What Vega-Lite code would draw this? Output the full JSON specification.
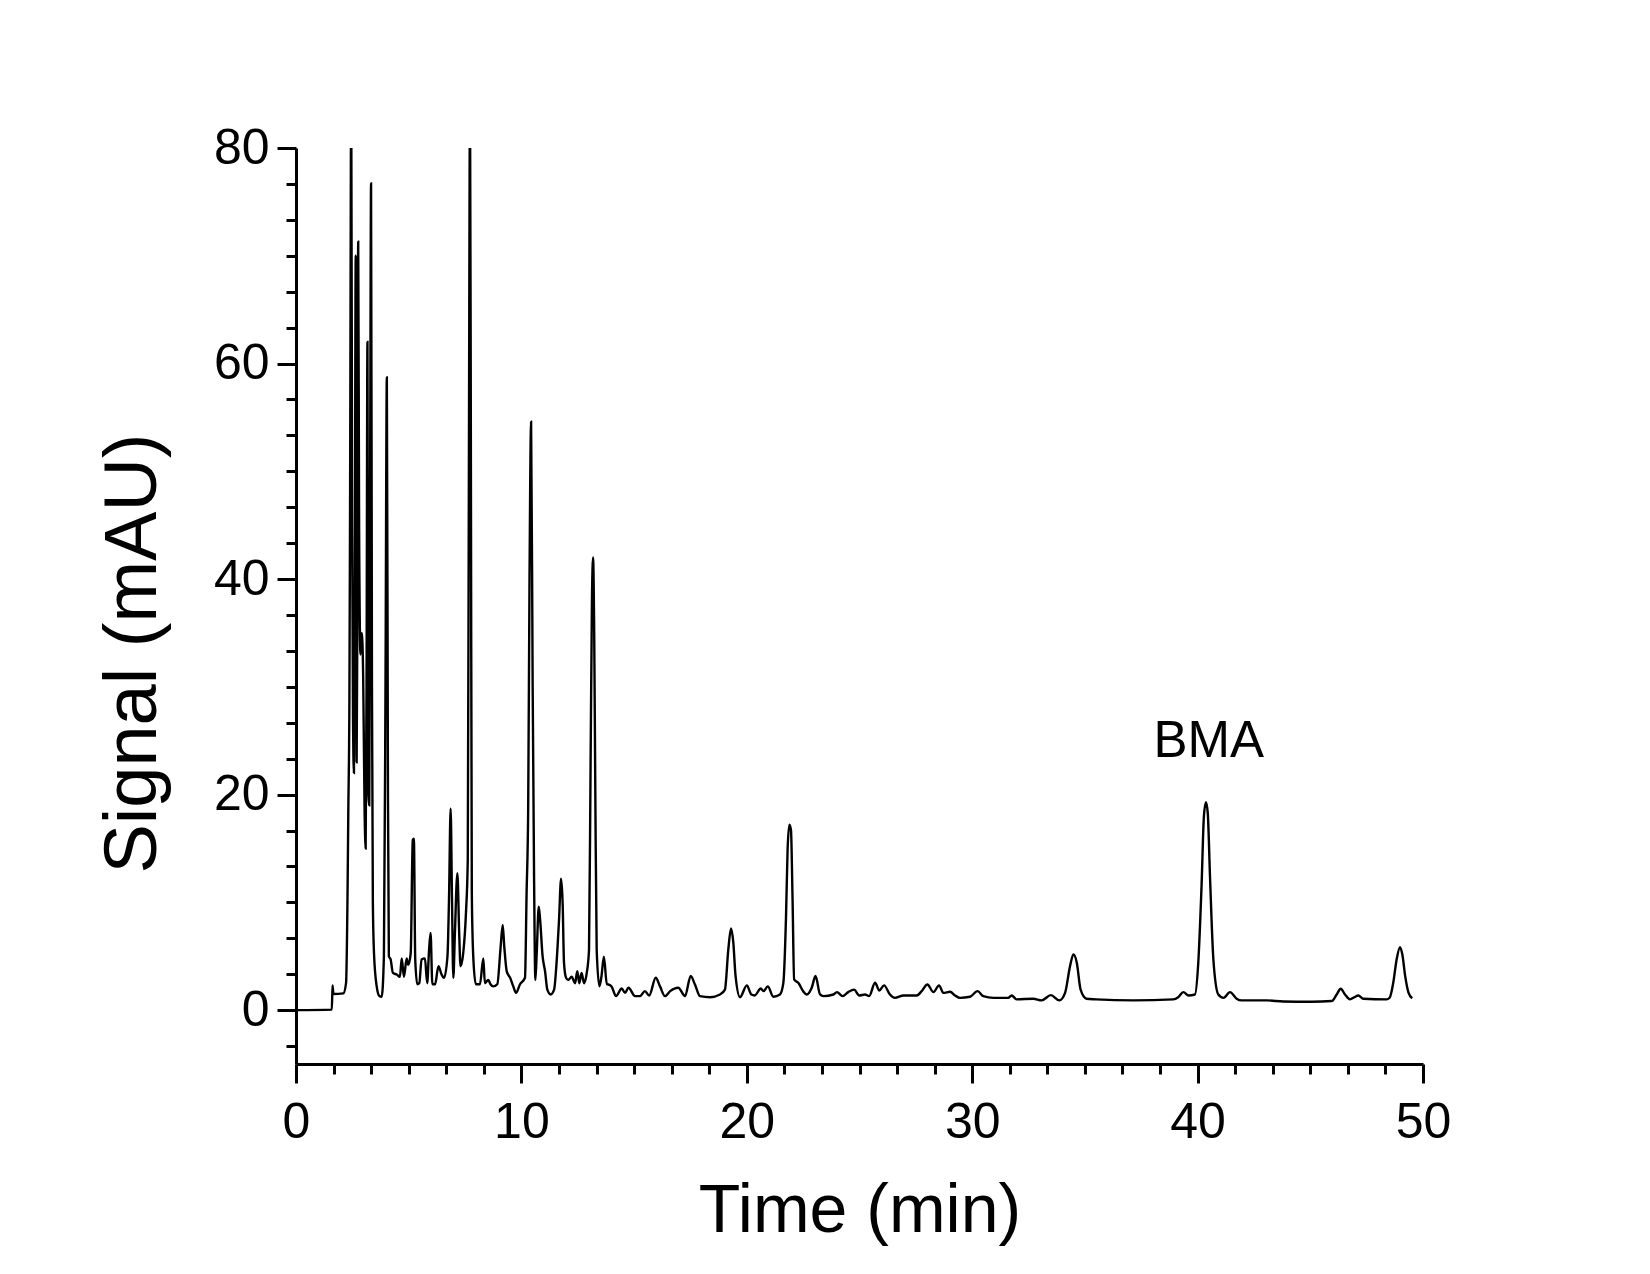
{
  "$schema": "https://vega.github.io/schema/vega-lite/v6.json",
  "width": 1127,
  "height": 916,
  "autosize": {"type": "none"},
  "padding": {"left": 296, "top": 148, "right": 227, "bottom": 210},
  "background": "white",
  "config": {
    "view": {"stroke": null},
    "axis": {
      "grid": false,
      "domainColor": "black",
      "tickColor": "black",
      "labelColor": "black",
      "titleColor": "black",
      "labelFont": "Liberation Sans",
      "titleFont": "Liberation Sans",
      "titleFontWeight": "normal"
    }
  },
  "datasets": {
    "trace": [
      {"t": 0, "s": 0}, {"t": 1.59, "s": 0.05}, {"t": 1.62, "s": 2.3}, {"t": 1.66, "s": 1.5}, {"t": 2.1, "s": 1.55},
      {"t": 2.22, "s": 2.5}, {"t": 2.29, "s": 11.5}, {"t": 2.32, "s": 18.3}, {"t": 2.37, "s": 29}, {"t": 2.4, "s": 48},
      {"t": 2.45, "s": 85}, {"t": 2.49, "s": 45}, {"t": 2.53, "s": 27}, {"t": 2.57, "s": 22}, {"t": 2.61, "s": 40},
      {"t": 2.65, "s": 70}, {"t": 2.69, "s": 23}, {"t": 2.72, "s": 35}, {"t": 2.76, "s": 71.3}, {"t": 2.8, "s": 45},
      {"t": 2.86, "s": 33}, {"t": 2.92, "s": 35}, {"t": 2.98, "s": 31}, {"t": 3.04, "s": 19}, {"t": 3.09, "s": 15},
      {"t": 3.13, "s": 30}, {"t": 3.17, "s": 62}, {"t": 3.21, "s": 20}, {"t": 3.25, "s": 19}, {"t": 3.29, "s": 50},
      {"t": 3.33, "s": 76.7}, {"t": 3.37, "s": 30}, {"t": 3.41, "s": 10}, {"t": 3.46, "s": 5.3}, {"t": 3.58, "s": 2.2},
      {"t": 3.7, "s": 1.3}, {"t": 3.8, "s": 1.23}, {"t": 3.9, "s": 5}, {"t": 3.97, "s": 30}, {"t": 4.03, "s": 58.7},
      {"t": 4.08, "s": 20}, {"t": 4.12, "s": 5}, {"t": 4.2, "s": 4.7}, {"t": 4.3, "s": 3.45}, {"t": 4.47, "s": 3.3},
      {"t": 4.61, "s": 3.1}, {"t": 4.69, "s": 4.8}, {"t": 4.79, "s": 3.1}, {"t": 4.91, "s": 4.8}, {"t": 4.98, "s": 4.2},
      {"t": 5.09, "s": 5.3}, {"t": 5.18, "s": 15.8}, {"t": 5.23, "s": 15.9}, {"t": 5.29, "s": 4.7}, {"t": 5.38, "s": 2.4},
      {"t": 5.47, "s": 2.5}, {"t": 5.57, "s": 4.7}, {"t": 5.72, "s": 4.8}, {"t": 5.82, "s": 2.5}, {"t": 5.9, "s": 5.45},
      {"t": 5.97, "s": 7.15}, {"t": 6.05, "s": 2.4}, {"t": 6.17, "s": 2.4}, {"t": 6.32, "s": 4.07}, {"t": 6.46, "s": 3.3},
      {"t": 6.57, "s": 3.0}, {"t": 6.72, "s": 5}, {"t": 6.79, "s": 10.5}, {"t": 6.86, "s": 18.7}, {"t": 6.92, "s": 10.5},
      {"t": 6.98, "s": 3.0}, {"t": 7.05, "s": 7.15}, {"t": 7.16, "s": 12.7}, {"t": 7.24, "s": 7.15}, {"t": 7.3, "s": 4.07},
      {"t": 7.42, "s": 5.3}, {"t": 7.54, "s": 9}, {"t": 7.62, "s": 13.9}, {"t": 7.67, "s": 50}, {"t": 7.72, "s": 85},
      {"t": 7.76, "s": 50}, {"t": 7.8, "s": 10.8}, {"t": 7.87, "s": 4.7}, {"t": 7.98, "s": 2.4}, {"t": 8.16, "s": 2.4},
      {"t": 8.31, "s": 4.8}, {"t": 8.38, "s": 2.5}, {"t": 8.53, "s": 2.8}, {"t": 8.63, "s": 2.4}, {"t": 8.75, "s": 2.2},
      {"t": 8.93, "s": 2.4}, {"t": 9.08, "s": 5.9}, {"t": 9.17, "s": 7.9}, {"t": 9.24, "s": 5.9}, {"t": 9.35, "s": 3.6},
      {"t": 9.5, "s": 3.0}, {"t": 9.64, "s": 2.2}, {"t": 9.76, "s": 1.6}, {"t": 9.94, "s": 2.4}, {"t": 10.16, "s": 3.0},
      {"t": 10.23, "s": 10.8}, {"t": 10.3, "s": 18.5}, {"t": 10.36, "s": 40}, {"t": 10.43, "s": 54.6}, {"t": 10.5, "s": 30},
      {"t": 10.56, "s": 12.9}, {"t": 10.62, "s": 2.8}, {"t": 10.68, "s": 5.3}, {"t": 10.77, "s": 9.6}, {"t": 10.83, "s": 8.4},
      {"t": 10.94, "s": 5}, {"t": 11.05, "s": 3.6}, {"t": 11.15, "s": 1.9}, {"t": 11.3, "s": 1.45}, {"t": 11.45, "s": 1.9},
      {"t": 11.56, "s": 4.4}, {"t": 11.67, "s": 8.4}, {"t": 11.76, "s": 12.2}, {"t": 11.83, "s": 9.9}, {"t": 11.89, "s": 4.4},
      {"t": 11.98, "s": 3}, {"t": 12.08, "s": 2.8}, {"t": 12.23, "s": 3.1}, {"t": 12.38, "s": 2.5}, {"t": 12.48, "s": 3.6},
      {"t": 12.57, "s": 2.5}, {"t": 12.67, "s": 3.45}, {"t": 12.78, "s": 2.5}, {"t": 12.9, "s": 3.45}, {"t": 13.0, "s": 5.6},
      {"t": 13.07, "s": 23}, {"t": 13.13, "s": 38}, {"t": 13.18, "s": 42}, {"t": 13.23, "s": 35}, {"t": 13.28, "s": 20},
      {"t": 13.34, "s": 5.6}, {"t": 13.46, "s": 2.2}, {"t": 13.55, "s": 3.1}, {"t": 13.66, "s": 4.95}, {"t": 13.79, "s": 2.4},
      {"t": 13.86, "s": 2.38}, {"t": 14.0, "s": 2.2}, {"t": 14.2, "s": 1.3}, {"t": 14.45, "s": 2.0}, {"t": 14.6, "s": 1.6},
      {"t": 14.75, "s": 2.08}, {"t": 15.04, "s": 1.3}, {"t": 15.26, "s": 1.3}, {"t": 15.48, "s": 1.76}, {"t": 15.67, "s": 1.36},
      {"t": 15.96, "s": 3.0}, {"t": 16.15, "s": 2.2}, {"t": 16.37, "s": 1.3}, {"t": 16.6, "s": 1.76}, {"t": 16.96, "s": 2.08},
      {"t": 17.26, "s": 1.3}, {"t": 17.51, "s": 3.16}, {"t": 17.7, "s": 2.38}, {"t": 17.92, "s": 1.3}, {"t": 18.37, "s": 1.2},
      {"t": 18.81, "s": 1.45}, {"t": 19.03, "s": 1.9}, {"t": 19.18, "s": 5.63}, {"t": 19.3, "s": 7.58}, {"t": 19.4, "s": 6.3},
      {"t": 19.5, "s": 3.2}, {"t": 19.7, "s": 1.2}, {"t": 20.0, "s": 2.3}, {"t": 20.2, "s": 1.45}, {"t": 20.35, "s": 1.36},
      {"t": 20.62, "s": 2.0}, {"t": 20.74, "s": 1.76}, {"t": 20.93, "s": 2.2}, {"t": 21.18, "s": 1.24}, {"t": 21.47, "s": 1.45},
      {"t": 21.62, "s": 2.5}, {"t": 21.74, "s": 8.7}, {"t": 21.81, "s": 14.9}, {"t": 21.89, "s": 17.2}, {"t": 21.96, "s": 16.7},
      {"t": 22.03, "s": 10.3}, {"t": 22.1, "s": 2.85}, {"t": 22.3, "s": 2.5}, {"t": 22.5, "s": 1.76}, {"t": 22.66, "s": 1.45},
      {"t": 22.88, "s": 2.08}, {"t": 23.05, "s": 3.16}, {"t": 23.25, "s": 1.45}, {"t": 23.4, "s": 1.3}, {"t": 23.84, "s": 1.45},
      {"t": 24.0, "s": 1.67}, {"t": 24.25, "s": 1.3}, {"t": 24.5, "s": 1.67}, {"t": 24.76, "s": 1.9}, {"t": 24.99, "s": 1.36},
      {"t": 25.24, "s": 1.45}, {"t": 25.43, "s": 1.3}, {"t": 25.69, "s": 2.54}, {"t": 25.88, "s": 1.82}, {"t": 26.09, "s": 2.3},
      {"t": 26.35, "s": 1.45}, {"t": 26.57, "s": 1.14}, {"t": 26.95, "s": 1.36}, {"t": 27.54, "s": 1.36}, {"t": 27.76, "s": 1.76},
      {"t": 28.01, "s": 2.38}, {"t": 28.28, "s": 1.67}, {"t": 28.53, "s": 2.3}, {"t": 28.72, "s": 1.6}, {"t": 29.02, "s": 1.7},
      {"t": 29.24, "s": 1.36}, {"t": 29.46, "s": 1.14}, {"t": 29.9, "s": 1.24}, {"t": 30.24, "s": 1.76}, {"t": 30.49, "s": 1.3},
      {"t": 30.94, "s": 1.14}, {"t": 31.6, "s": 1.14}, {"t": 31.75, "s": 1.36}, {"t": 31.97, "s": 1.0}, {"t": 32.71, "s": 1.05},
      {"t": 33.08, "s": 0.9}, {"t": 33.49, "s": 1.39}, {"t": 33.87, "s": 0.9}, {"t": 34.12, "s": 1.6}, {"t": 34.34, "s": 4.08},
      {"t": 34.49, "s": 5.17}, {"t": 34.64, "s": 4.4}, {"t": 34.81, "s": 1.9}, {"t": 35.07, "s": 1.06}, {"t": 35.5, "s": 1.0},
      {"t": 37.15, "s": 0.9}, {"t": 38.92, "s": 1.0}, {"t": 39.14, "s": 1.2}, {"t": 39.37, "s": 1.67}, {"t": 39.6, "s": 1.36},
      {"t": 39.88, "s": 1.45}, {"t": 40.03, "s": 4.4}, {"t": 40.18, "s": 11.8}, {"t": 40.28, "s": 18.0}, {"t": 40.37, "s": 19.3},
      {"t": 40.45, "s": 18.3}, {"t": 40.55, "s": 12.4}, {"t": 40.7, "s": 4.7}, {"t": 40.92, "s": 1.45}, {"t": 41.15, "s": 1.14},
      {"t": 41.44, "s": 1.67}, {"t": 41.73, "s": 1.06}, {"t": 41.95, "s": 0.9}, {"t": 43.06, "s": 0.9}, {"t": 43.8, "s": 0.8},
      {"t": 45.06, "s": 0.77}, {"t": 45.95, "s": 0.84}, {"t": 46.17, "s": 1.45}, {"t": 46.35, "s": 1.98}, {"t": 46.54, "s": 1.45},
      {"t": 46.76, "s": 1.0}, {"t": 46.96, "s": 1.2}, {"t": 47.13, "s": 1.36}, {"t": 47.35, "s": 1.06}, {"t": 48.38, "s": 1.0},
      {"t": 48.52, "s": 1.15}, {"t": 48.68, "s": 2.54}, {"t": 48.83, "s": 4.7}, {"t": 48.98, "s": 5.85}, {"t": 49.08, "s": 5.2},
      {"t": 49.21, "s": 3.16}, {"t": 49.36, "s": 1.6}, {"t": 49.52, "s": 1.1}
    ],
    "ann": [{"label": "BMA", "t": 40.5, "s": 23.5}]
  },
  "layer": [
    {
      "data": {"name": "trace"},
      "mark": {"type": "line", "color": "black", "strokeWidth": 2.4, "clip": true, "interpolate": "monotone"},
      "encoding": {
        "x": {
          "field": "t", "type": "quantitative",
          "scale": {"domain": [0, 50], "nice": false, "zero": false},
          "axis": {
            "orient": "bottom",
            "values": [0, 10, 20, 30, 40, 50],
            "format": "d",
            "tickSize": 19, "tickWidth": 3, "domainWidth": 3,
            "labelFontSize": 50, "labelPadding": 14, "labelFlush": false, "labelOverlap": false,
            "title": "Time (min)", "titleFontSize": 68,
            "titleX": 563.5, "titleY": 167, "titleAlign": "center", "titleBaseline": "alphabetic"
          }
        },
        "y": {
          "field": "s", "type": "quantitative",
          "scale": {"domain": [-5, 80], "nice": false, "zero": false},
          "axis": {
            "orient": "left",
            "values": [0, 20, 40, 60, 80],
            "format": "d",
            "tickSize": 19, "tickWidth": 3, "domainWidth": 3,
            "labelFontSize": 50, "labelPadding": 8, "labelFlush": false, "labelOverlap": false,
            "title": "Signal (mAU)", "titleFontSize": 74, "titleAngle": -90,
            "titleX": -141, "titleY": 505, "titleAlign": "center", "titleBaseline": "alphabetic"
          }
        }
      }
    },
    {
      "data": {"name": "ann"},
      "mark": {"type": "text", "font": "Liberation Sans", "fontSize": 51, "color": "black", "align": "center", "baseline": "alphabetic"},
      "encoding": {
        "x": {
          "field": "t", "type": "quantitative",
          "axis": {
            "orient": "bottom",
            "values": [1.6667, 3.3333, 5, 6.6667, 8.3333, 11.6667, 13.3333, 15, 16.6667, 18.3333, 21.6667, 23.3333, 25, 26.6667, 28.3333, 31.6667, 33.3333, 35, 36.6667, 38.3333, 41.6667, 43.3333, 45, 46.6667, 48.3333],
            "tickSize": 10, "tickWidth": 3, "labels": false, "domain": false, "title": null
          }
        },
        "y": {
          "field": "s", "type": "quantitative",
          "axis": {
            "orient": "left",
            "values": [-3.3333, 3.3333, 6.6667, 10, 13.3333, 16.6667, 23.3333, 26.6667, 30, 33.3333, 36.6667, 43.3333, 46.6667, 50, 53.3333, 56.6667, 63.3333, 66.6667, 70, 73.3333, 76.6667],
            "tickSize": 10, "tickWidth": 3, "labels": false, "domain": false, "title": null
          }
        },
        "text": {"field": "label"}
      }
    }
  ],
  "resolve": {"axis": {"x": "independent", "y": "independent"}}
}
